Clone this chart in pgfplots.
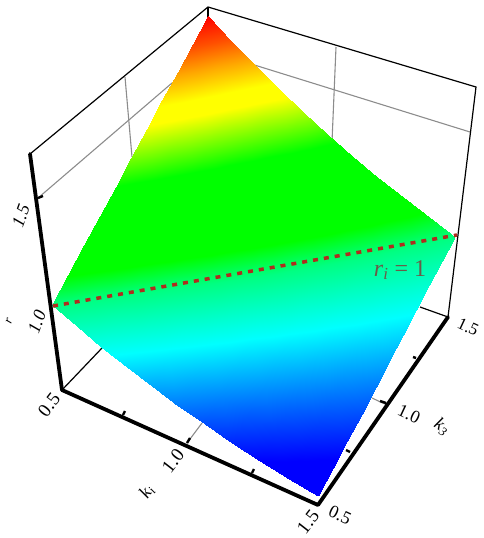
\documentclass[border=0pt]{standalone}
\usepackage{pgfplots}
\pgfplotsset{compat=1.18}
\usepackage{pgfplotstable}
\usepackage{fontspec}
\setmainfont{Liberation Serif}

% surface: k_i, k_3, r_i
\pgfplotstableread{
ki k3 r
0.5 0.5 1.0000
0.5 0.6 1.0713
0.5 0.7 1.1425
0.5 0.8 1.2138
0.5 0.9 1.2850
0.5 1.0 1.3563
0.5 1.1 1.4275
0.5 1.2 1.4988
0.5 1.3 1.5700
0.5 1.4 1.6413
0.5 1.5 1.7125
0.6 0.5 0.9396
0.6 0.6 1.0083
0.6 0.7 1.0770
0.6 0.8 1.1456
0.6 0.9 1.2143
0.6 1.0 1.2830
0.6 1.1 1.3517
0.6 1.2 1.4204
0.6 1.3 1.4890
0.6 1.4 1.5577
0.6 1.5 1.6264
0.7 0.5 0.8829
0.7 0.6 0.9490
0.7 0.7 1.0150
0.7 0.8 1.0811
0.7 0.9 1.1472
0.7 1.0 1.2133
0.7 1.1 1.2793
0.7 1.2 1.3454
0.7 1.3 1.4115
0.7 1.4 1.4775
0.7 1.5 1.5436
0.8 0.5 0.8299
0.8 0.6 0.8933
0.8 0.7 0.9567
0.8 0.8 1.0202
0.8 0.9 1.0836
0.8 1.0 1.1470
0.8 1.1 1.2104
0.8 1.2 1.2738
0.8 1.3 1.3372
0.8 1.4 1.4007
0.8 1.5 1.4641
0.9 0.5 0.7806
0.9 0.6 0.8413
0.9 0.7 0.9021
0.9 0.8 0.9628
0.9 0.9 1.0235
0.9 1.0 1.0843
0.9 1.1 1.1450
0.9 1.2 1.2057
0.9 1.3 1.2664
0.9 1.4 1.3272
0.9 1.5 1.3879
1.0 0.5 0.7350
1.0 0.6 0.7930
1.0 0.7 0.8510
1.0 0.8 0.9090
1.0 0.9 0.9670
1.0 1.0 1.0250
1.0 1.1 1.0830
1.0 1.2 1.1410
1.0 1.3 1.1990
1.0 1.4 1.2570
1.0 1.5 1.3150
1.1 0.5 0.6931
1.1 0.6 0.7483
1.1 0.7 0.8036
1.1 0.8 0.8588
1.1 0.9 0.9140
1.1 1.0 0.9693
1.1 1.1 1.0245
1.1 1.2 1.0797
1.1 1.3 1.1349
1.1 1.4 1.1902
1.1 1.5 1.2454
1.2 0.5 0.6549
1.2 0.6 0.7073
1.2 0.7 0.7597
1.2 0.8 0.8122
1.2 0.9 0.8646
1.2 1.0 0.9170
1.2 1.1 0.9694
1.2 1.2 1.0218
1.2 1.3 1.0743
1.2 1.4 1.1267
1.2 1.5 1.1791
1.3 0.5 0.6204
1.3 0.6 0.6700
1.3 0.7 0.7195
1.3 0.8 0.7691
1.3 0.9 0.8187
1.3 1.0 0.8683
1.3 1.1 0.9178
1.3 1.2 0.9674
1.3 1.3 1.0170
1.3 1.4 1.0665
1.3 1.5 1.1161
1.4 0.5 0.5896
1.4 0.6 0.6363
1.4 0.7 0.6830
1.4 0.8 0.7296
1.4 0.9 0.7763
1.4 1.0 0.8230
1.4 1.1 0.8697
1.4 1.2 0.9164
1.4 1.3 0.9630
1.4 1.4 1.0097
1.4 1.5 1.0564
1.5 0.5 0.5625
1.5 0.6 0.6063
1.5 0.7 0.6500
1.5 0.8 0.6938
1.5 0.9 0.7375
1.5 1.0 0.7813
1.5 1.1 0.8250
1.5 1.2 0.8688
1.5 1.3 0.9125
1.5 1.4 0.9563
1.5 1.5 1.0000
}\surfdata

% perspective of the view, fitted to the corners of the surface (pixels)
\newcommand{\camden}{(1-0.13316*(\thisrow{ki}-0.5)+0.1388*(\thisrow{k3}-0.5)-0.1456*(\thisrow{r}-0.5))}
\newcommand{\camx}{(47.74+224.95*(\thisrow{ki}-0.5)+151.28*(\thisrow{k3}-0.5)+0.944*(\thisrow{r}-0.5))/\camden}
\newcommand{\camy}{(397.4+42.3*(\thisrow{ki}-0.5)-104*(\thisrow{k3}-0.5)-229.28*(\thisrow{r}-0.5))/\camden}

\pgfplotsset{
  thickaxis/.style={black, line width=3.8pt, line cap=round, line join=round, forget plot},
  thinaxis/.style={black, line width=1.2pt, forget plot},
  gridl/.style={black!45, line width=1.1pt, forget plot},
  tickm/.style={black, line width=2.4pt, forget plot},
}
\newcommand{\fs}[1]{\fontsize{#1}{#1}\selectfont}

\begin{document}
\begin{tikzpicture}
\path[use as bounding box] (0,0) rectangle (484pt,538pt);
\begin{axis}[
  at={(0,0)}, anchor=south west,
  scale only axis,
  width=484pt, height=538pt,
  xmin=0, xmax=484, ymin=0, ymax=538,
  y dir=reverse,
  hide axis,
  clip=false,
  colormap={ratemap}{
    rgb255(0pt)=(0,0,255);
    rgb255(5pt)=(0,0,255);
    rgb255(26pt)=(0,255,255);
    rgb255(38pt)=(0,255,130);
    rgb255(44pt)=(0,255,0);
    rgb255(63pt)=(0,255,0);
    rgb255(76pt)=(255,255,0);
    rgb255(80pt)=(255,255,0);
    rgb255(87pt)=(255,165,0);
    rgb255(93pt)=(255,80,0);
    rgb255(100pt)=(255,0,0)
  },
  point meta min=0.5625, point meta max=1.7125,
]
% back walls and floor
\addplot[gridl] coordinates {(38,198) (172,83)};
\addplot[gridl] coordinates {(248,63) (470,132)};
\addplot[gridl] coordinates {(336,47) (332,142)};
\addplot[gridl] coordinates {(125,77) (132,157)};
\addplot[gridl] coordinates {(187,443) (202,423)};
\addplot[gridl] coordinates {(387,405) (372,398)};
\addplot[thinaxis] coordinates {(62,390) (102,348)};
\addplot[thinaxis] coordinates {(448,317) (420,307)};
\addplot[thinaxis] coordinates {(30,154) (208,7) (476,87) (448,317)};
\addplot[thinaxis] coordinates {(208,7) (208,17)};
% surface
\addplot[surf, shader=interp, mesh/cols=11, point meta=explicit]
  table[x expr={\camx}, y expr={\camy}, meta=r] {\surfdata};
% r_i = 1
\addplot[color={rgb,255:red,175;green,45;blue,30}, line width=3.5pt, dash pattern=on 5pt off 6pt, forget plot]
  coordinates {(53,306) (457,235)};
% front axes
\addplot[thickaxis] coordinates {(30,154) (62,390) (318,505) (448,317)};
% ticks
\addplot[tickm] coordinates {(123,415) (125,411)};
\addplot[tickm] coordinates {(187,443) (190,438)};
\addplot[tickm] coordinates {(252,473) (254,469)};
\addplot[tickm] coordinates {(350,452) (346,450)};
\addplot[tickm] coordinates {(386,403) (380,401)};
\addplot[tickm] coordinates {(416,358) (413,357)};
\addplot[tickm] coordinates {(38,198) (43,196)};
% labels
\node[font=\fs{19}, rotate=52] at (axis cs:49,405) {0.5};
\node[font=\fs{19}, rotate=52] at (axis cs:173,461) {1.0};
\node[font=\fs{19}, rotate=52] at (axis cs:308,522) {1.5};
\node[font=\fs{18}\itshape, rotate=55] at (axis cs:147,492) {k\textsubscript{i}};
\node[font=\fs{18}, rotate=-25] at (axis cs:340,515) {0.5};
\node[font=\fs{18}, rotate=-25] at (axis cs:409,414) {1.0};
\node[font=\fs{17}, rotate=-25] at (axis cs:468,327) {1.5};
\node[font=\fs{18}\itshape, rotate=-35] at (axis cs:442,427) {k\textsubscript{3}};
\node[font=\fs{18}\itshape, rotate=70] at (axis cs:37,322) {1.0};
\node[font=\fs{18}\itshape, rotate=70] at (axis cs:21,216) {1.5};
\node[font=\fs{13}\itshape, rotate=70] at (axis cs:9,321) {r};
\node[font=\fs{24}, text={rgb,255:red,105;green,92;blue,72}] at (axis cs:400,270) {\textit{r}\textsubscript{\textit{i}} = 1};
\end{axis}
\end{tikzpicture}
\end{document}
